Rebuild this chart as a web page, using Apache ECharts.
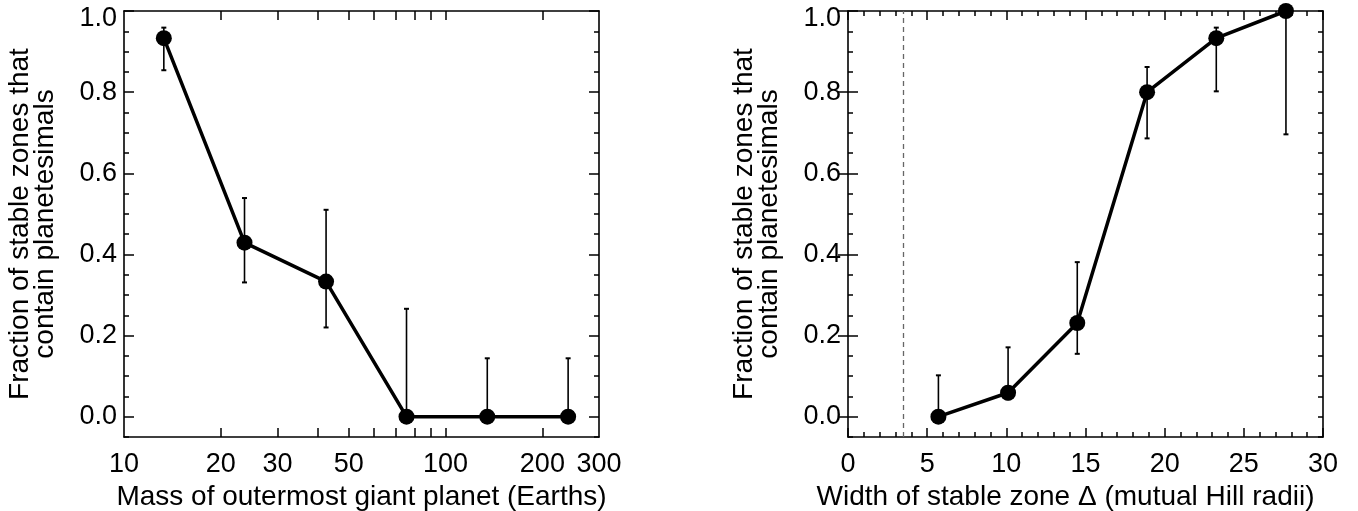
<!DOCTYPE html>
<html>
<head>
<meta charset="utf-8">
<script src="https://cdn.jsdelivr.net/npm/echarts@6/dist/echarts.min.js"></script>
<style>
html,body{margin:0;padding:0;background:#fff;}
#chart{width:1358px;height:511px;}
</style>
</head>
<body>
<div id="chart"></div>
<script>
// ---- data ----
const massX = [13.3, 23.7, 42.5, 75.6, 134.8, 240.5];
const massFrac = [0.933, 0.429, 0.333, 0, 0, 0];
const massErrLow = [0.854, 0.331, 0.22, 0, 0, 0];
const massErrHigh = [0.959, 0.539, 0.51, 0.266, 0.144, 0.144];

const widthX = [5.71, 10.11, 14.48, 18.89, 23.26, 27.66];
const widthFrac = [0, 0.059, 0.231, 0.8, 0.933, 1.0];
const widthErrLow = [0, 0.043, 0.155, 0.686, 0.802, 0.696];
const widthErrHigh = [0.102, 0.171, 0.381, 0.862, 0.959, 1.0];

const hillLimit = [3.46];

const massTickLabels = [10, 20, 30, 50, 100, 200, 300];
const massTicks = [20, 30, 40, 50, 60, 70, 80, 90, 100, 200];
const fracTickLabels = [0, 0.2, 0.4, 0.6, 0.8, 1.0];

const yTitle = 'Fraction of stable zones that\ncontain planetesimals';
const xTitleLeft = 'Mass of outermost giant planet (Earths)';
const xTitleRight = 'Width of stable zone \u0394 (mutual Hill radii)';

// ---- styling ----
const FONT = 'Liberation Sans, Arial, Helvetica, sans-serif';
const TICKFS = 27;
const TITLEFS = 28;
const AXW = 1.6;

const chart = echarts.init(document.getElementById('chart'), null, {renderer: 'canvas'});

function fracLabel(v) {
  const s = Number(v).toFixed(1);
  return Math.abs(v - 1) < 1e-9 ? '{top|' + s + '}' : s;
}

function yAxes(gridIndex, withName) {
  const base = {
    type: 'value', gridIndex, min: -0.05, max: 1.0,
    splitLine: {show: false}
  };
  return [
    Object.assign({}, base, {
      position: 'left', interval: 0.05,
      axisLine: {show: true, onZero: false, lineStyle: {color: '#000', width: AXW}},
      axisTick: {show: true, inside: true, length: 5, lineStyle: {color: '#000', width: 1.5}},
      axisLabel: {show: false}
    }),
    Object.assign({}, base, {
      position: 'left',
      name: withName ? yTitle : '',
      nameLocation: 'middle', nameRotate: 90, nameGap: 66,
      nameTextStyle: {fontFamily: FONT, fontSize: TITLEFS, color: '#000', lineHeight: 25},
      axisLine: {show: false},
      axisTick: {show: true, inside: true, length: 10, customValues: fracTickLabels, lineStyle: {color: '#000', width: 1.5}},
      axisLabel: {show: true, margin: 7, customValues: fracTickLabels, formatter: fracLabel,
        fontFamily: FONT, fontSize: TICKFS, color: '#000',
        rich: {top: {fontFamily: FONT, fontSize: TICKFS, color: '#000', padding: [16, 0, 0, 0]}}}
    }),
    Object.assign({}, base, {
      position: 'right', interval: 0.05,
      axisLine: {show: true, onZero: false, lineStyle: {color: '#000', width: AXW}},
      axisTick: {show: true, inside: true, length: 5, lineStyle: {color: '#000', width: 1.5}},
      axisLabel: {show: false}
    }),
    Object.assign({}, base, {
      position: 'right',
      axisLine: {show: false},
      axisTick: {show: true, inside: true, length: 10, customValues: fracTickLabels, lineStyle: {color: '#000', width: 1.5}},
      axisLabel: {show: false}
    })
  ];
}

function errSeries(xAxisIndex, yAxisIndex, xs, lo, hi) {
  return {
    type: 'custom', xAxisIndex, yAxisIndex, z: 2, silent: true,
    data: xs.map((x, i) => [x, lo[i], hi[i]]),
    renderItem: (params, api) => {
      const x = api.value(0);
      const pLo = api.coord([x, api.value(1)]);
      const pHi = api.coord([x, api.value(2)]);
      const cw = 2.5;
      const st = {stroke: '#000', lineWidth: 1.6};
      return {
        type: 'group',
        children: [
          {type: 'line', shape: {x1: pLo[0], y1: pLo[1], x2: pHi[0], y2: pHi[1]}, style: st},
          {type: 'line', shape: {x1: pLo[0] - cw, y1: pLo[1], x2: pLo[0] + cw, y2: pLo[1]}, style: {stroke: '#000', lineWidth: 2}},
          {type: 'line', shape: {x1: pHi[0] - cw, y1: pHi[1], x2: pHi[0] + cw, y2: pHi[1]}, style: {stroke: '#000', lineWidth: 2}}
        ]
      };
    }
  };
}

const lineStyleCommon = {
  type: 'line', symbol: 'circle', symbolSize: 16, z: 3,
  itemStyle: {color: '#000'},
  lineStyle: {color: '#000', width: 3.5},
  clip: false, animation: false
};

const option = {
  animation: false,
  backgroundColor: '#fff',
  grid: [
    {left: 124, top: 11, width: 475, height: 426, containLabel: false, outerBoundsMode: 'none'},
    {left: 848, top: 11, width: 475, height: 426, containLabel: false, outerBoundsMode: 'none'}
  ],
  xAxis: [
    {
      type: 'log', logBase: 10, gridIndex: 0, position: 'bottom', min: 10, max: 300,
      name: xTitleLeft, nameLocation: 'middle', nameGap: 42,
      nameTextStyle: {fontFamily: FONT, fontSize: TITLEFS, color: '#000'},
      axisLine: {show: true, onZero: false, lineStyle: {color: '#000', width: AXW}},
      axisTick: {show: true, inside: true, length: 9, customValues: massTicks, lineStyle: {color: '#000', width: 1.5}},
      axisLabel: {show: true, margin: 14, customValues: massTickLabels, fontFamily: FONT, fontSize: TICKFS, color: '#000'},
      splitLine: {show: false}, minorTick: {show: false}
    },
    {
      type: 'log', logBase: 10, gridIndex: 0, position: 'top', min: 10, max: 300,
      axisLine: {show: true, onZero: false, lineStyle: {color: '#000', width: AXW}},
      axisTick: {show: true, inside: true, length: 9, customValues: massTicks, lineStyle: {color: '#000', width: 1.5}},
      axisLabel: {show: false},
      splitLine: {show: false}
    },
    {
      type: 'value', gridIndex: 1, position: 'bottom', min: 0, max: 30, interval: 5,
      name: xTitleRight, nameLocation: 'middle', nameGap: 42,
      nameTextStyle: {fontFamily: FONT, fontSize: TITLEFS, color: '#000', padding: [0, 40, 0, 0]},
      axisLine: {show: true, onZero: false, lineStyle: {color: '#000', width: AXW}},
      axisTick: {show: true, inside: true, length: 9, lineStyle: {color: '#000', width: 1.5}},
      minorTick: {show: true, splitNumber: 5, length: 5, lineStyle: {color: '#000', width: 1.5}},
      axisLabel: {show: true, margin: 14, fontFamily: FONT, fontSize: TICKFS, color: '#000'},
      splitLine: {show: false}
    },
    {
      type: 'value', gridIndex: 1, position: 'top', min: 0, max: 30, interval: 5,
      axisLine: {show: true, onZero: false, lineStyle: {color: '#000', width: AXW}},
      axisTick: {show: true, inside: true, length: 9, lineStyle: {color: '#000', width: 1.5}},
      minorTick: {show: true, splitNumber: 5, length: 5, lineStyle: {color: '#000', width: 1.5}},
      axisLabel: {show: false},
      splitLine: {show: false}
    }
  ],
  yAxis: [].concat(yAxes(0, true), yAxes(1, true)),
  series: [
    errSeries(0, 0, massX, massErrLow, massErrHigh),
    Object.assign({}, lineStyleCommon, {xAxisIndex: 0, yAxisIndex: 0, data: massX.map((x, i) => [x, massFrac[i]])}),
    errSeries(2, 4, widthX, widthErrLow, widthErrHigh),
    Object.assign({}, lineStyleCommon, {
      xAxisIndex: 2, yAxisIndex: 4, data: widthX.map((x, i) => [x, widthFrac[i]]),
      markLine: {
        silent: true, symbol: ['none', 'none'], label: {show: false},
        lineStyle: {color: '#666', type: [5, 4], width: 1.3},
        data: hillLimit.map(v => ({xAxis: v}))
      }
    })
  ]
};
chart.setOption(option);
</script>
</body>
</html>
